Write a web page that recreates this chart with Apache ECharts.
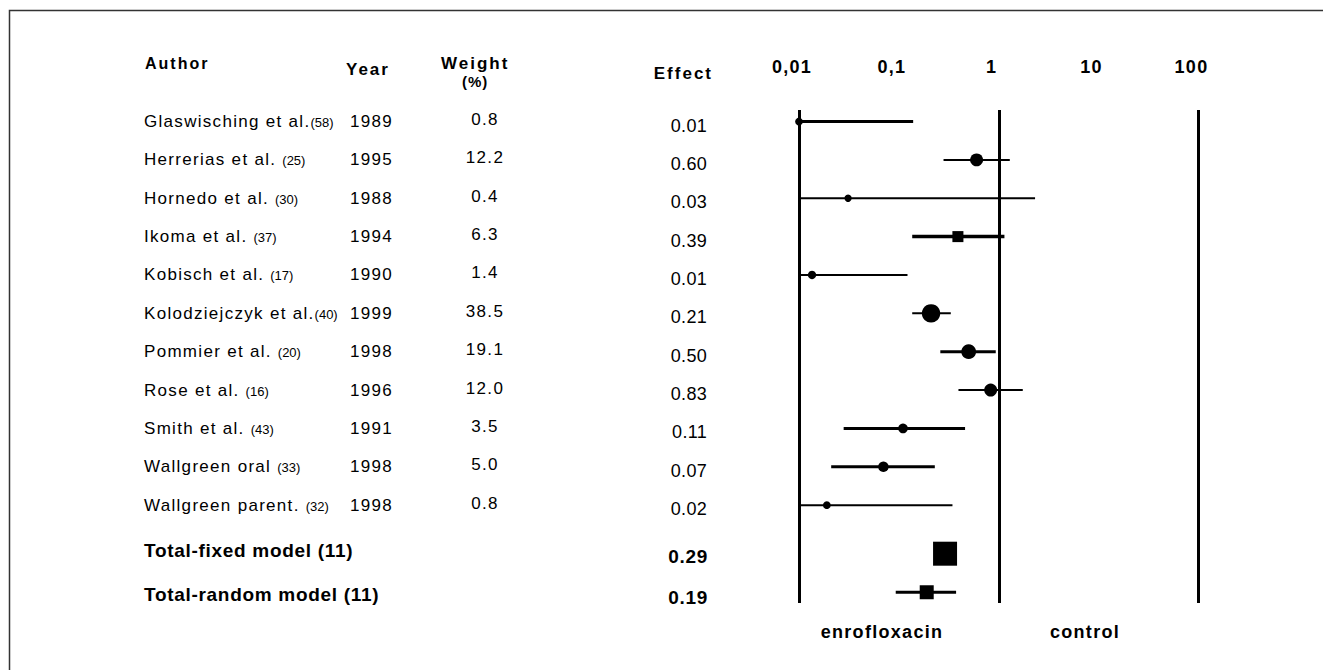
<!DOCTYPE html>
<html><head><meta charset="utf-8">
<script src="https://cdn.jsdelivr.net/npm/echarts@6/dist/echarts.min.js"></script>
<style>html,body{margin:0;padding:0;background:#fff}#chart{width:1323px;height:670px}</style>
</head><body><div id="chart"></div>
<script>
// ---------------- data ----------------
const authors = ['Glaswisching et al.', 'Herrerias et al. ', 'Hornedo et al. ', 'Ikoma et al. ', 'Kobisch et al. ',
  'Kolodziejczyk et al.', 'Pommier et al. ', 'Rose et al. ', 'Smith et al. ', 'Wallgreen oral ', 'Wallgreen parent. '];
const refs = ['(58)', '(25)', '(30)', '(37)', '(17)', '(40)', '(20)', '(16)', '(43)', '(33)', '(32)'];
const years = [1989, 1995, 1988, 1994, 1990, 1999, 1998, 1996, 1991, 1998, 1998];
const weights = [0.8, 12.2, 0.4, 6.3, 1.4, 38.5, 19.1, 12.0, 3.5, 5.0, 0.8];
const effects = [0.01, 0.60, 0.031, 0.39, 0.0135, 0.21, 0.50, 0.83, 0.11, 0.07, 0.019];
const ciLow = [0.01, 0.28, 0.01, 0.136, 0.01, 0.136, 0.26, 0.395, 0.028, 0.021, 0.01];
const ciHigh = [0.139, 1.29, 2.31, 1.14, 0.122, 0.331, 0.933, 1.74, 0.46, 0.229, 0.344];
const totalLabels = ['Total-fixed model (11)', 'Total-random model (11)'];
const totalEffects = [0.29, 0.19];
const totalLow = [0.24, 0.093];
const totalHigh = [0.35, 0.374];
const tickLabels = ['0,01', '0,1', '1', '10', '100'];
const columnHeaders = ['Author', 'Year', 'Weight', '(%)', 'Effect'];
const sideLabels = ['enrofloxacin', 'control'];
const refLines = [0.01, 1, 100];

// ---------------- layout / style ----------------
const FONT = '"Liberation Sans", Arial, sans-serif';
const totalRowPos = [11.265, 12.27];
const ciWidths = [3, 2, 2, 3.5, 2, 2, 3, 2, 3, 3, 2, 3, 3];
const studySymbols = ['circle', 'circle', 'circle', 'rect', 'circle', 'circle', 'circle', 'circle', 'circle', 'circle', 'circle'];
const totalSizes = [24, 14];
const SPACING = { n17: 1.3, n18: 0.3, b16: 2, b17: 2, b15: 1, b18: 1.3, b19: 0.7 };

const measureCtx = document.createElement('canvas').getContext('2d');
function textWidth(str, font, ls) {
  measureCtx.font = font;
  return measureCtx.measureText(str).width + str.length * ls;
}

const nStudies = authors.length;
const rowPos = authors.map((_, i) => i).concat(totalRowPos);

const ciData = [];
for (let i = 0; i < nStudies; i++) ciData.push([ciLow[i], ciHigh[i], i]);
for (let k = 0; k < totalEffects.length; k++) ciData.push([totalLow[k], totalHigh[k], totalRowPos[k]]);

const tableData = rowPos.map((p, i) => [1, p, i]);

function renderTable(params, api) {
  const idx = api.value(2);
  const cy = api.coord([1, api.value(1)])[1];
  const children = [];
  const bodyFont = '17px ' + FONT;
  if (idx < nStudies) {
    children.push({ type: 'text', x: 144, y: cy, style: { text: authors[idx], font: bodyFont, fill: '#000', align: 'left', verticalAlign: 'middle' } });
    const w = textWidth(authors[idx], bodyFont, SPACING.n17);
    children.push({ type: 'text', x: 144 + w, y: cy + 1, style: { text: refs[idx], font: '13px ' + FONT, fill: '#000', align: 'left', verticalAlign: 'middle' } });
    children.push({ type: 'text', x: 350, y: cy, style: { text: String(years[idx]), font: bodyFont, fill: '#000', align: 'left', verticalAlign: 'middle' } });
    children.push({ type: 'text', x: 485, y: cy - 2, style: { text: weights[idx].toFixed(1), font: bodyFont, fill: '#000', align: 'center', verticalAlign: 'middle' } });
    children.push({ type: 'text', x: 707, y: cy + 4, style: { text: effects[idx].toFixed(2), font: '18px ' + FONT, fill: '#000', align: 'right', verticalAlign: 'middle' } });
  } else {
    const k = idx - nStudies;
    const boldFont = 'bold 19px ' + FONT;
    children.push({ type: 'text', x: 144, y: cy + (k === 0 ? -3 : 2), style: { text: totalLabels[k], font: boldFont, fill: '#000', align: 'left', verticalAlign: 'middle' } });
    children.push({ type: 'text', x: 708, y: cy + (k === 0 ? 3 : 5), style: { text: totalEffects[k].toFixed(2), font: boldFont, fill: '#000', align: 'right', verticalAlign: 'middle' } });
  }
  return { type: 'group', children };
}

function renderCI(params, api) {
  const y = api.value(2);
  const p1 = api.coord([api.value(0), y]);
  const p2 = api.coord([api.value(1), y]);
  return { type: 'line', shape: { x1: p1[0], y1: p1[1], x2: p2[0], y2: p2[1] },
    style: { stroke: '#000', lineWidth: ciWidths[params.dataIndex] } };
}

const chart = echarts.init(document.getElementById('chart'), null, { renderer: 'svg' });
const option = {
  animation: false,
  backgroundColor: '#fff',
  grid: { left: 799, right: 124.5, top: 110, height: 493 },
  xAxis: {
    type: 'log', logBase: 10, min: 0.01, max: 100, position: 'top',
    axisLine: { show: false }, axisTick: { show: false }, splitLine: { show: false },
    axisLabel: {
      show: true, margin: 34, padding: [0, 14, 0, 0],
      fontFamily: FONT, fontSize: 18, fontWeight: 'bold', color: '#000',
      formatter: v => tickLabels[Math.round(Math.log10(v)) + 2]
    }
  },
  yAxis: { type: 'value', inverse: true, min: -0.3, max: 12.55, show: false },
  graphic: [
    { type: 'rect', z: -10, shape: { x: 9.5, y: 10.5, width: 1400, height: 800 }, style: { fill: 'none', stroke: '#333', lineWidth: 1.5 } },
    { type: 'text', x: 145, y: 63, style: { text: columnHeaders[0], font: 'bold 16px ' + FONT, fill: '#000', verticalAlign: 'middle' } },
    { type: 'text', x: 346, y: 69, style: { text: columnHeaders[1], font: 'bold 17px ' + FONT, fill: '#000', verticalAlign: 'middle' } },
    { type: 'text', x: 441, y: 63, style: { text: columnHeaders[2], font: 'bold 17px ' + FONT, fill: '#000', verticalAlign: 'middle' } },
    { type: 'text', x: 462, y: 81, style: { text: columnHeaders[3], font: 'bold 15px ' + FONT, fill: '#000', verticalAlign: 'middle' } },
    { type: 'text', x: 713, y: 73, style: { text: columnHeaders[4], font: 'bold 17px ' + FONT, fill: '#000', align: 'right', verticalAlign: 'middle' } },
    { type: 'text', x: 882, y: 632, style: { text: sideLabels[0], font: 'bold 18px ' + FONT, fill: '#000', align: 'center', verticalAlign: 'middle' } },
    { type: 'text', x: 1085, y: 632, style: { text: sideLabels[1], font: 'bold 18px ' + FONT, fill: '#000', align: 'center', verticalAlign: 'middle' } }
  ],
  series: [
    {
      type: 'custom', name: 'ci', renderItem: renderCI, data: ciData, z: 2,
      encode: { x: [0, 1], y: 2 },
      markLine: {
        silent: true, symbol: 'none', label: { show: false },
        lineStyle: { color: '#000', width: 3, type: 'solid' },
        emphasis: { disabled: true },
        data: refLines.map(v => ({ xAxis: v }))
      }
    },
    {
      type: 'scatter', name: 'studies', z: 3,
      data: effects.map((e, i) => [e, i]),
      symbol: (v, p) => studySymbols[p.dataIndex],
      symbolSize: (v, p) => 6 + 2 * Math.sqrt(weights[p.dataIndex]),
      itemStyle: { color: '#000', opacity: 1 }
    },
    {
      type: 'scatter', name: 'totals', z: 3,
      data: totalEffects.map((e, k) => [e, totalRowPos[k]]),
      symbol: 'rect',
      symbolSize: (v, p) => totalSizes[p.dataIndex],
      itemStyle: { color: '#000', opacity: 1 }
    },
    {
      type: 'custom', name: 'table', renderItem: renderTable, data: tableData, clip: false, z: 4,
      encode: { x: 0, y: 1 }
    }
  ]
};
chart.setOption(option);

function applySpacing() {
  document.querySelectorAll('#chart svg text').forEach(t => {
    const cs = getComputedStyle(t);
    const size = Math.round(parseFloat(cs.fontSize));
    const bold = parseInt(cs.fontWeight, 10) >= 600;
    const ls = SPACING[(bold ? 'b' : 'n') + size];
    if (ls) t.setAttribute('letter-spacing', ls + 'px');
  });
}
chart.on('finished', applySpacing);
applySpacing();
setTimeout(applySpacing, 50);
</script>
</body></html>
